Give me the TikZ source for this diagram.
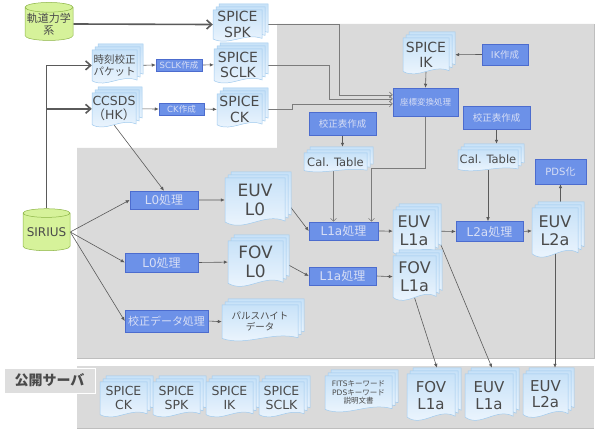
\documentclass[tikz,border=0pt]{standalone}
\usepackage{fontspec}
\setmainfont{DejaVu Sans}
\newfontfamily\jp{Noto Sans CJK JP}
\usetikzlibrary{arrows.meta,shapes.geometric}
\definecolor{GrayBg}{RGB}{218,218,218}
\definecolor{GrayEdge}{RGB}{190,190,190}
\definecolor{LabelBg}{RGB}{222,222,222}
\definecolor{BoxFill}{RGB}{108,145,232}
\definecolor{BoxLine}{RGB}{76,108,206}
\definecolor{BoxText}{RGB}{215,222,245}
\definecolor{DocTop}{RGB}{200,226,248}
\definecolor{DocBot}{RGB}{240,247,254}
\definecolor{DocLine}{RGB}{160,202,238}
\definecolor{DocText}{RGB}{74,74,74}
\definecolor{CylFill}{RGB}{214,242,154}
\definecolor{CylLine}{RGB}{140,180,70}
\definecolor{Wire}{RGB}{90,90,90}
\pgfdeclarelayer{bg}
\pgfdeclarelayer{wires}
\pgfsetlayers{bg,wires,main}
\newcommand{\fsz}[1]{\fontsize{#1}{\fpeval{round(1.12*#1,1)}}\selectfont}
% stack of three pages: name, x, y, width, height (front page), font, text
\newcommand{\docstack}[7]{%
  \foreach \o in {6,3,0}{%
    \pgfmathsetmacro\pgL{#2+\o}\pgfmathsetmacro\pgR{#2+#4+\o}\pgfmathsetmacro\pgT{#3-\o}
    \path[docpage] (\pgL,\pgT) -- (\pgR,\pgT) -- (\pgR,{\pgT+0.86*#5})
      .. controls ({\pgL+0.65*#4},{\pgT+0.68*#5}) and ({\pgL+0.32*#4},{\pgT+1.1*#5}) .. (\pgL,{\pgT+0.88*#5}) -- cycle;}
  \node[doctext,font=#6,minimum width=#4,minimum height={0.88*#5}] (#1) at ({#2+0.5*#4},{#3+0.44*#5}) {#7};
}

\begin{document}
\begin{tikzpicture}[x=1pt,y=-1pt,
  docpage/.style={top color=DocTop,bottom color=DocBot,draw=DocLine,line width=0.5pt},
  doctext/.style={text=DocText,align=center,inner sep=0pt},
  procbox/.style={draw=BoxLine,fill=BoxFill,text=BoxText,align=center,inner sep=0pt,line width=0.5pt},
  dbcyl/.style={cylinder,shape border rotate=90,aspect=0.22,draw=CylLine,fill=CylFill,text=DocText,align=center,inner sep=0pt,line width=0.5pt},
  thickarr/.style={draw=Wire,line width=1.6pt,-{Straight Barb[length=5pt,width=9pt]}},
  arr/.style={draw=Wire,line width=0.6pt,-{Latex[length=4pt,width=3.5pt]}},
  chev/.style={draw=Wire!80,line width=0.6pt,-{Straight Barb[length=3pt,width=6pt]}}]
\useasboundingbox (0,0) rectangle (598,430);

\begin{pgfonlayer}{bg}
\fill[GrayBg] (277,24) -- (594,24) -- (594,358) -- (77,358) -- (77,148) -- (277,148) -- cycle;
\draw[GrayEdge,line width=0.8pt] (77,358) -- (594,358) -- (594,24);
\fill[GrayBg] (77,366) rectangle (594,428);
\draw[GrayEdge,line width=0.8pt] (77,428) -- (594,428);
\end{pgfonlayer}

% sources
\node[dbcyl,minimum width=48,minimum height=38,font=\fsz{11}] (orbit) at (49,24) {{\jp 軌道力学}\\{\jp 系}};
\node[dbcyl,minimum width=47,minimum height=42,font=\fsz{12}] (sirius) at (46.5,232) {SIRIUS};

% SPICE kernels
\docstack{spk}{213}{10}{49}{33}{\fsz{14}}{SPICE\\SPK}
\docstack{jikoku}{92}{50}{45}{35}{\fsz{10.5}}{{\jp 時刻校正}\\{\jp パケット}}
\node[procbox,minimum width=46,minimum height=12,font=\fsz{8.5}] (sclkmk) at (179,65) {SCLK{\jp 作成}};
\docstack{sclk}{214}{49}{48}{36}{\fsz{14}}{SPICE\\SCLK}
\docstack{ccsds}{92}{93}{44}{36}{\fsz{12.5}}{CCSDS\\{\jp （}HK{\jp ）}}
\node[procbox,minimum width=45,minimum height=12,font=\fsz{8.5}] (ckmk) at (181.5,109) {CK{\jp 作成}};
\docstack{ck}{217}{94}{45}{35}{\fsz{14}}{SPICE\\CK}
\docstack{ik}{403}{38}{46}{38}{\fsz{14}}{SPICE\\IK}
\node[procbox,minimum width=46,minimum height=21,font=\fsz{9.5}] (ikmk) at (505,54.5) {IK{\jp 作成}};
\node[procbox,minimum width=65,minimum height=28,font=\fsz{8.5}] (coord) at (425.5,102) {{\jp 座標変換処理}};

% calibration tables
\node[procbox,minimum width=67,minimum height=23,font=\fsz{9.5}] (calmkL) at (342.5,123.5) {{\jp 校正表作成}};
\node[procbox,minimum width=67,minimum height=23,font=\fsz{9.5}] (calmkR) at (496.5,117.5) {{\jp 校正表作成}};
\docstack{calL}{304}{153}{63}{20}{\fsz{11.5}}{Cal. Table}
\docstack{calR}{458}{150}{60}{22}{\fsz{11.5}}{Cal. Table}
\node[procbox,minimum width=51,minimum height=25,font=\fsz{10}] (pds) at (560.5,171.5) {PDS{\jp 化}};

% processing chain
\node[procbox,minimum width=68,minimum height=18,font=\fsz{12}] (l0euv) at (164,200) {L0{\jp 処理}};
\node[procbox,minimum width=73,minimum height=19,font=\fsz{12}] (l0fov) at (161.5,262.5) {L0{\jp 処理}};
\node[procbox,minimum width=83,minimum height=22,font=\fsz{11}] (calproc) at (166.5,321) {{\jp 校正データ処理}};
\docstack{euvl0}{225}{178}{60}{50}{\fsz{17}}{EUV\\L0}
\docstack{fovl0}{228}{241}{55}{48}{\fsz{17}}{FOV\\L0}
\docstack{pulse}{222}{305}{76}{38}{\fsz{9.5}}{{\jp パルスハイト}\\{\jp データ}}
\node[procbox,minimum width=69,minimum height=18,font=\fsz{12}] (l1aeuv) at (343.5,231) {L1a{\jp 処理}};
\node[procbox,minimum width=67,minimum height=18,font=\fsz{12}] (l1afov) at (342.5,276) {L1a{\jp 処理}};
\docstack{euvla}{393}{210}{42}{48}{\fsz{16}}{EUV\\L1a}
\docstack{fovla}{393}{256}{43}{47}{\fsz{16}}{FOV\\L1a}
\node[procbox,minimum width=67,minimum height=20,font=\fsz{12}] (l2a) at (489.5,231.5) {L2a{\jp 処理}};
\docstack{euvlb}{532}{208}{46}{52}{\fsz{16}}{EUV\\L2a}

% public server
\node[fill=LabelBg,draw=white,line width=0.8pt,text=DocText,minimum width=91,minimum height=25,inner sep=0pt,font=\fsz{14}\jp\bfseries] (pub) at (49.5,380.5) {公開サーバ};
\docstack{pubck}{100}{382}{47}{37}{\fsz{12.5}}{SPICE\\CK}
\docstack{pubspk}{153}{382}{47}{37}{\fsz{12.5}}{SPICE\\SPK}
\docstack{pubik}{206}{382}{47}{37}{\fsz{12.5}}{SPICE\\IK}
\docstack{pubsclk}{259}{382}{45}{37}{\fsz{12.5}}{SPICE\\SCLK}
\docstack{fits}{325}{376}{67}{38}{\fsz{7.5}}{FITS{\jp キーワード}\\PDS{\jp キーワード}\\{\jp 説明文書}}
\docstack{pubfov}{407}{374}{48}{49}{\fsz{15}}{FOV\\L1a}
\docstack{pubeuvla}{465}{374}{48}{49}{\fsz{15}}{EUV\\L1a}
\docstack{pubeuvlb}{523}{374}{45}{46}{\fsz{15}}{EUV\\L2a}

\begin{pgfonlayer}{wires}
\draw[thickarr] (orbit.east) -- (spk.west);
\draw[thickarr] (sirius.north) |- (jikoku.west);
\draw[thickarr] (sirius.north) |- (ccsds.west);
\draw[arr] (jikoku.east) -- (sclkmk.west);
\draw[arr] (sclkmk.east) -- (sclk.west);
\draw[arr] (ccsds.east) -- (ckmk.west);
\draw[arr] (ckmk.east) -- (ck.west);
\draw[arr] (ccsds.south) -- (l0euv.north);
\draw[chev] (spk.east) -- ++(77,0) |- ([yshift=7pt]coord.west);
\draw[chev] (sclk.east) -- ++(67,0) |- ([yshift=3pt]coord.west);
\draw[chev] (ck.east) -- ++(30,0) |- ([yshift=-2pt]coord.west);
\draw[arr] (ikmk.west) -- ([xshift=6pt]ik.east);
\draw[arr] (ik.south) -- (coord.north);
\draw[chev] (coord.south) -- ++(0,52) -| ([xshift=28pt]l1aeuv.north);
\draw[arr] (calmkL.south) -- ([yshift=6pt]calmkL.south |- calL.north);
\draw[arr] (calmkR.south) -- ([yshift=6pt]calmkR.south |- calR.north);
\draw[chev] ([xshift=-10pt]l1aeuv.north |- calL.south) -- ([xshift=-10pt]l1aeuv.north);
\draw[arr] (calR.south) -- (calR.south |- l2a.north);
\draw[arr] (sirius.east) -- (l0euv.west);
\draw[arr] (sirius.east) -- (l0fov.west);
\draw[arr] (sirius.east) -- (calproc.west);
\draw[arr] (l0euv.east) -- (euvl0.west);
\draw[arr] (l0fov.east) -- (fovl0.west);
\draw[arr] (calproc.east) -- (pulse.west);
\draw[arr] (euvl0.east) -- (l1aeuv.west);
\draw[arr] (fovl0.east) -- (l1afov.west);
\draw[arr] (l1aeuv.east) -- (euvla.west);
\draw[arr] (l1afov.east) -- (fovla.west);
\draw[arr] (euvla.east) -- (l2a.west);
\draw[arr] (l2a.east) -- (euvlb.west);
\draw[arr] (pds.south |- euvlb.north) -- (pds.south);
\draw[arr] (euvla.east) -- ([xshift=3pt,yshift=6pt]pubeuvla.north);
\draw[arr] (fovla.south) -- ([xshift=6pt,yshift=6pt]pubfov.north);
\draw[arr] (euvlb.south) -- ([yshift=6pt]euvlb.south |- pubeuvlb.north);
\end{pgfonlayer}
\end{tikzpicture}
\end{document}
